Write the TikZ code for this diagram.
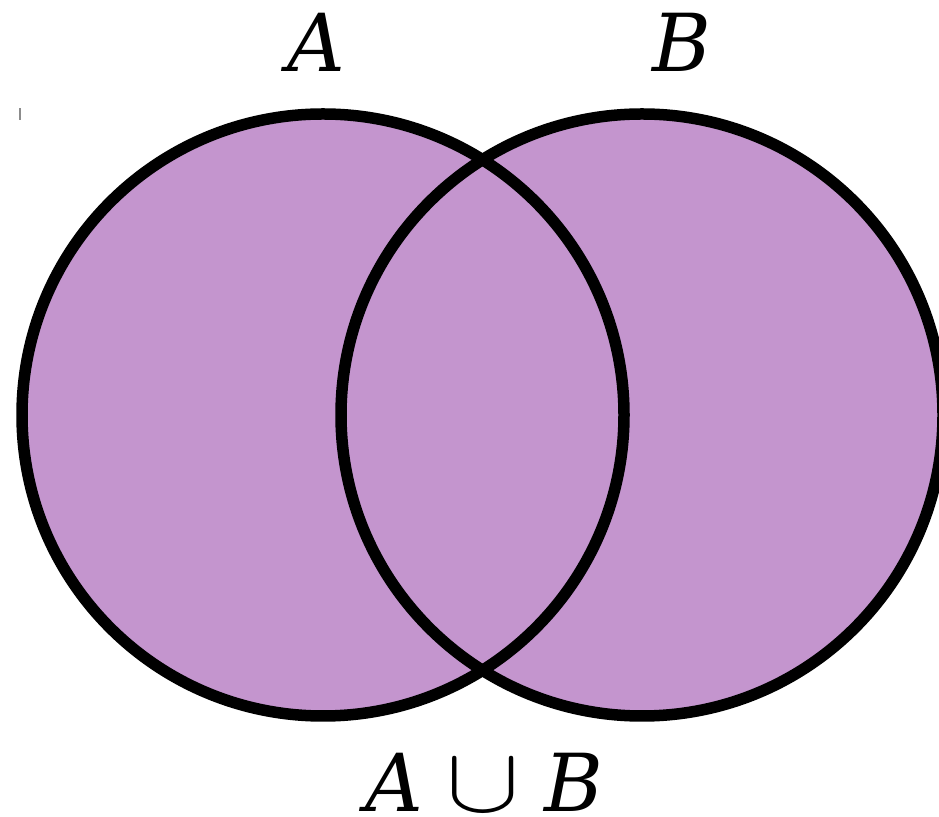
\RequirePackage{fix-cm}
\documentclass[tikz,border=0pt]{standalone}
\usepackage{fontspec}
\setmainfont{DejaVu Serif}
\usepackage{graphicx}
\usepackage{tikz}
\usetikzlibrary{positioning}
\definecolor{setfill}{RGB}{196,149,206}
\definecolor{tickgrey}{RGB}{140,140,140}
\tikzset{
  setdisc/.style ={circle, fill=setfill, draw=none, inner sep=0pt, minimum size=602pt},
  ring/.style    ={draw=black, line width=11.5pt},
  setlbl/.style  ={anchor=base, inner sep=0pt, font=\fontsize{80}{90}\selectfont\itshape},
}
\begin{document}
\begin{tikzpicture}[x=1pt,y=1pt]
\useasboundingbox (0,0) rectangle (939,816);
\node[setdisc] (setA) at (323,401) {};
\node[setdisc] (setB) at (642,401) {};
\draw[ring] (setA.center) circle[radius=301];
\draw[ring] (setB.center) circle[radius=301];
\node[setlbl] (lblA) at (316,744) {A};
\node[setlbl] (lblB) at (682,744) {B};
\node[setlbl] (lblU) at (484,5)
  {A\hspace{24pt}\scalebox{1}[0.84]{\fontsize{110}{120}\selectfont$\cup$}\hspace{24pt}B};
\draw[tickgrey, line width=1.5pt] (20,696) -- (20,708);
\end{tikzpicture}
\end{document}
